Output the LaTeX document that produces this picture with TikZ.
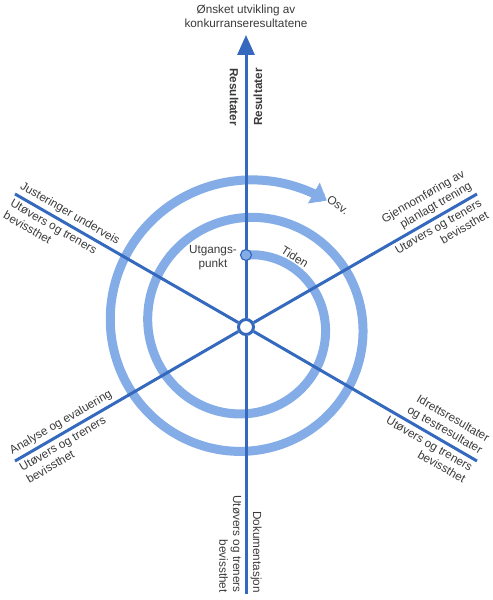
\documentclass[tikz,border=0pt]{standalone}
\usepackage{fontspec}
\setmainfont{Liberation Sans}
\usepackage{tikz}
\usetikzlibrary{arrows.meta}
\definecolor{spoke}{HTML}{3469BE}
\definecolor{ring}{HTML}{84ACE6}
\definecolor{ink}{HTML}{3A3A3A}

\begin{document}
\begin{tikzpicture}[x=1bp,y=-1bp,  % 1 unit = 1 px, y downwards
  spokeline/.style={spoke,line width=3bp},
  lbl/.style={font=\fontsize{11.8}{14}\selectfont,text=ink,inner sep=2bp},
  endlbl/.style={lbl,inner xsep=1bp,inner ysep=4.5bp},
  axlbl/.style={font=\fontsize{11.8}{14}\selectfont\bfseries,text=ink,inner xsep=1bp,inner ysep=7.5bp},
  hubdot/.style={circle,draw=spoke,fill=white,line width=3bp,minimum size=15bp,inner sep=0pt},
  startdot/.style={circle,draw=spoke,fill=ring,line width=1.2bp,minimum size=11bp,inner sep=0pt}]
  \useasboundingbox (0,0) rectangle (493,600);
  % ---- spiral (time), r grows 37.5 px per turn
  \draw[ring,line width=9bp,-{Triangle[length=15bp,width=23bp]}]
    plot[domain=0:753,samples=240,smooth] ({246+(70+0.10417*\x)*sin(\x)},{325-(70+0.10417*\x)*cos(\x)});
  % ---- spokes
  \node[hubdot] (hub) at (246,327) {};
  \coordinate (endT) at (246,35);
  \coordinate (endUR) at (477,194);
  \coordinate (endLR) at (477,461);
  \coordinate (endB) at (246,594);
  \coordinate (endLL) at (15,461);
  \coordinate (endUL) at (15,194);
  \draw[spokeline,-{Triangle[length=20bp,width=17bp]}] (hub) -- (endT);
  \foreach \e in {endUR,endLR,endB,endLL,endUL}
    \draw[spokeline] (hub) -- (\e);
  \node[startdot] (start) at (246,255) {};
  % ---- top
  \node[lbl,align=center] (goal) at (246,16) {Ønsket utvikling av\\konkurranseresultatene};
  \node[axlbl,rotate=-90,anchor=north east] (resL) at (246,127) {Resultater};
  \node[axlbl,rotate=90,anchor=north west] (resR) at (246,127) {Resultater};
  % ---- inside the spiral
  \node[lbl,align=center,anchor=east] (utg) at (239,258) {Utgangs-\\punkt};
  \node[lbl,rotate=-32] (tid) at (295,257) {Tiden};
  \node[lbl,rotate=-35] (osv) at (338,205) {Osv.};
  % ---- spoke ends
  \node[endlbl,rotate=-30,anchor=south west] (ulA) at (endUL) {Justeringer underveis};
  \node[endlbl,rotate=-30,anchor=north west,align=left] (ulB) at (endUL) {Utøvers og treners\\bevissthet};
  \node[endlbl,rotate=30,anchor=south east,align=right] (urA) at (endUR) {Gjennomføring av\\planlagt trening};
  \node[endlbl,rotate=30,anchor=north east,align=right] (urB) at (endUR) {Utøvers og treners\\bevissthet};
  \node[endlbl,rotate=-30,anchor=south east,align=right] (lrA) at (endLR) {Idrettsresultater\\og testresultater};
  \node[endlbl,rotate=-30,anchor=north east,align=right] (lrB) at (endLR) {Utøvers og treners\\bevissthet};
  \node[endlbl,rotate=-90,anchor=south east] (bA) at (endB) {Dokumentasjon};
  \node[endlbl,rotate=-90,anchor=north east,align=right] (bB) at (endB) {Utøvers og treners\\bevissthet};
  \node[endlbl,rotate=30,anchor=south west] (llA) at (endLL) {Analyse og evaluering};
  \node[endlbl,rotate=30,anchor=north west,align=left] (llB) at (endLL) {Utøvers og treners\\bevissthet};
\end{tikzpicture}
\end{document}
